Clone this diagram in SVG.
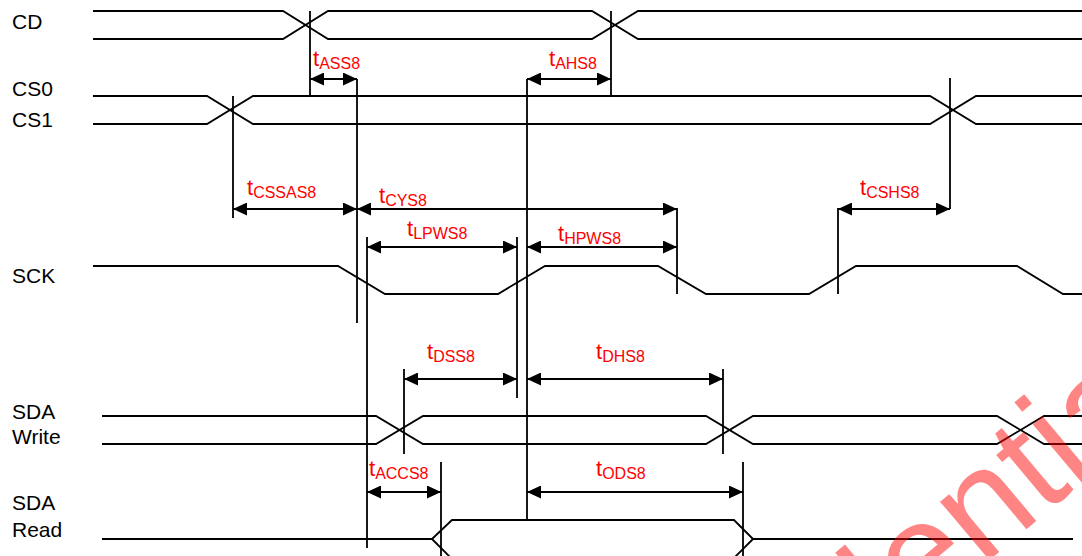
<svg xmlns="http://www.w3.org/2000/svg" width="1082" height="556" viewBox="0 0 1082 556">
<style>
.sig{fill:none;stroke:#000;stroke-width:1.8;stroke-linejoin:miter}
.vl{fill:none;stroke:#000;stroke-width:1.8}
.dim{fill:none;stroke:#000;stroke-width:1.8;marker-start:url(#ah);marker-end:url(#ah)}
.name{font-family:"Liberation Sans",Arial,sans-serif;font-size:21px;fill:#000}
.lbl{font-family:"Liberation Sans",Arial,sans-serif;font-size:22px;fill:#ff0000}
.sub{font-size:16px}
.wm{font-family:"Liberation Sans",Arial,sans-serif;font-size:145px;fill:#ff0000;fill-opacity:0.48}
</style>
<defs>
<marker id="ah" viewBox="0 0 14 13" refX="14" refY="6.5" markerWidth="14" markerHeight="13" markerUnits="userSpaceOnUse" orient="auto-start-reverse">
<path d="M0,0 L14,6.5 L0,13 z" fill="#000"/>
</marker>
</defs>
<rect width="1082" height="556" fill="#fff"/>
<g id="names">
<text class="name" x="12" y="29">CD</text>
<text class="name" x="12" y="96">CS0</text>
<text class="name" x="12" y="127">CS1</text>
<text class="name" x="12" y="283">SCK</text>
<text class="name" x="12" y="419">SDA</text>
<text class="name" x="12" y="444">Write</text>
<text class="name" x="12" y="510">SDA</text>
<text class="name" x="12" y="537">Read</text>
</g>
<g id="sig-cd">
<path class="sig" d="M93,11 H283 L328,39 H592 L638,11 H1082"/>
<path class="sig" d="M93,39 H283 L328,11 H592 L638,39 H1082"/>
</g>
<g id="sig-cs">
<path class="sig" d="M93,96 H207 L253,124 H930 L976,96 H1082"/>
<path class="sig" d="M93,124 H207 L253,96 H930 L976,124 H1082"/>
</g>
<g id="sig-sck">
<path class="sig" d="M93,266 H338 L385,294 H498 L545,266 H658 L706,294 H809 L856,266 H1017 L1063,294 H1082"/>
</g>
<g id="sig-sdaw">
<path class="sig" d="M102,416 H376 L423,444 H706 L753,416 H997 L1044,444 H1082"/>
<path class="sig" d="M102,444 H376 L423,416 H706 L753,444 H997 L1044,416 H1082"/>
</g>
<g id="sig-sdar">
<path class="sig" d="M102,539 H432 L452,520 H734 L753,539 H1073"/>
<path class="sig" d="M432,539 L451,558"/>
<path class="sig" d="M753,539 L734,558"/>
</g>
<g id="connectors">
<path class="vl" d="M310,11 V96 M357,79 V323 M611,11 V96 M527,79 V520 M233,96 V218 M950,78 V209 M367,237 V548 M517,237 V398 M677,208 V294 M838,208 V294 M404,369 V454 M723,369 V454 M441,462 V556 M743,462 V556"/>
<path class="dim" d="M310,79 H357"/>
<path class="dim" d="M527,79 H611"/>
<path class="dim" d="M233,209 H357"/>
<path class="dim" d="M357,209 H677"/>
<path class="dim" d="M838,209 H950"/>
<path class="dim" d="M367,247 H517"/>
<path class="dim" d="M527,247 H677"/>
<path class="dim" d="M404,379 H517"/>
<path class="dim" d="M527,379 H723"/>
<path class="dim" d="M367,492 H441"/>
<path class="dim" d="M527,492 H743"/>
</g>
<g id="labels">
<text class="lbl" x="313" y="66">t<tspan class="sub" dy="3">ASS8</tspan></text>
<text class="lbl" x="549" y="66">t<tspan class="sub" dy="3">AHS8</tspan></text>
<text class="lbl" x="247" y="195">t<tspan class="sub" dy="3">CSSAS8</tspan></text>
<text class="lbl" x="379" y="203">t<tspan class="sub" dy="3">CYS8</tspan></text>
<text class="lbl" x="860" y="195">t<tspan class="sub" dy="3">CSHS8</tspan></text>
<text class="lbl" x="407" y="236">t<tspan class="sub" dy="3">LPWS8</tspan></text>
<text class="lbl" x="558" y="241">t<tspan class="sub" dy="3">HPWS8</tspan></text>
<text class="lbl" x="427" y="359">t<tspan class="sub" dy="3">DSS8</tspan></text>
<text class="lbl" x="596" y="359">t<tspan class="sub" dy="3">DHS8</tspan></text>
<text class="lbl" x="369" y="476">t<tspan class="sub" dy="3">ACCS8</tspan></text>
<text class="lbl" x="596" y="476">t<tspan class="sub" dy="3">ODS8</tspan></text>
</g>
<g id="watermark">
<text class="wm" transform="translate(599,888) rotate(-40)">Confidential</text>
</g>
</svg>
